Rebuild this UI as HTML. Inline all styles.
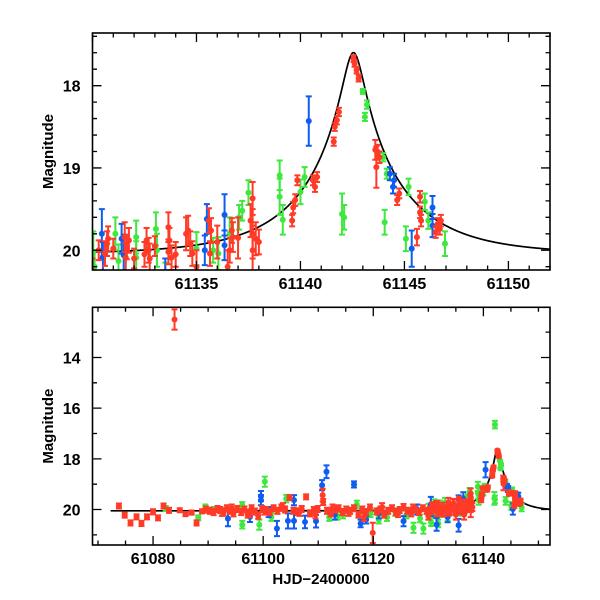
<!DOCTYPE html>
<html><head><meta charset="utf-8"><style>
html,body{margin:0;padding:0;background:#fff;}
svg{display:block;font-family:"Liberation Sans",sans-serif;}
</style></head><body>
<svg id="chart" width="600" height="600" viewBox="0 0 600 600" xmlns="http://www.w3.org/2000/svg">
<defs>
<clipPath id="clipTop"><rect x="92.5" y="33" width="457.5" height="237"/></clipPath>
<clipPath id="clipBot"><rect x="92.5" y="307.3" width="457.5" height="237.7"/></clipPath>
</defs>
<g id="top"></g>
<g id="bot"></g>
</svg>
<script>
const redT = [61130.6,61130.7,61130.75,61131.55,61131.65,61131.75,61131.6,61132.6,61132.7,61132.75,61133.65,61133.7,61133.65,61133.8,61134.6,61134.7,61134.8,61135.6,61135.7,61135.65,61136.7,61136.75,61136.6,61137.6,61137.7,61137.7,61137.7,61137.85,61139.6,61139.65,61139.75,61139.85,61140.6,61140.7,61140.8,61141.6,61141.65,61141.75,61141.85,61142.55,61142.6,61142.7,61142.8,61143.6,61143.7,61143.65,61143.8,61144.65,61144.75,61145.75,61145.75,61145.8,61145.6,61146.6,61146.7,61146.75,61146.5,
61073.8,61074.85,61075.9,61077.0,61077.9,61078.9,61080.0,61080.9,61081.9,61082.9,61083.9,61084.85,61085.9,61087.0,61087.9,61088.9,
61089.6,61090.3,61091.0,61091.7,61092.2,61092.8,61093.4,61094.0,61094.6,61095.3,61096.0,61096.6,61097.2,61097.9,61098.5,61099.1,61099.8,61100.5,61101.2,61101.9,61102.6,61103.3,61104.0,61104.8,61105.5,61106.3,61107.0,61107.8,61108.5,61109.2,61109.9,61110.8,61110.9,61111.6,61112.3,61113.0,61113.7,61114.4,61115.1,61115.8,61116.5,61117.3,61118.0,61118.7,61119.4,61119.9,61120.6,61121.3,61122.0,61122.7,61123.4,61124.1,61124.8,61125.5,61126.2,61126.9,61127.6,61128.3,61129.0,61129.7,61130.3,61131.0,61132.0,61133.0,61134.0,61135.0,61136.0,61137.0,61138.0,
61092.5,61094.3,61097.5,61100.2,61103.6,61106.6,61109.5,61112.6,61115.5,61118.3,61121.6,61124.5,61127.2,61130.0,61132.5,61134.5,61136.5,61137.5];
const redM = [20.04,19.92,19.86,19.84,19.96,19.88,20.09,19.88,20.0,20.1,19.72,19.88,20.02,20.09,19.76,19.92,20.04,19.64,19.76,20.04,19.76,19.84,20.0,19.64,19.37,19.8,20.0,19.86,19.64,19.48,19.39,19.15,19.15,19.23,19.11,18.68,18.5,18.42,18.32,17.67,17.73,17.81,17.91,18.78,18.8,18.99,18.87,19.39,19.31,19.35,19.54,19.64,19.84,19.68,19.74,19.64,19.78,
19.86,20.22,20.53,20.29,20.55,20.29,20.09,20.33,19.86,20.03,12.5,20.03,20.18,20.12,20.53,20.07,
20.0,20.05,20.1,19.98,20.02,20.12,19.95,20.05,20.15,19.98,20.1,20.0,20.2,19.95,20.08,20.25,19.98,20.02,20.1,19.95,20.05,19.92,20.0,19.53,20.05,20.1,19.98,19.5,20.15,20.02,19.98,19.43,19.7,20.05,20.15,20.0,19.95,20.1,20.0,20.05,19.95,20.2,20.0,20.1,19.92,20.92,20.08,20.0,20.2,20.05,19.95,20.1,20.02,19.9,20.05,20.15,20.0,20.1,19.95,20.05,20.0,19.98,20.1,19.95,20.05,20.2,19.9,19.85,
19.9,20.1,19.95,20.15,20.05,19.9,20.1,20.2,19.95,20.1,20.3,19.9,20.15,19.95,20.25,20.05,19.8,20.2];
const redE = [0.15,0.15,0.15,0.18,0.15,0.15,0.18,0.15,0.15,0.18,0.18,0.15,0.15,0.15,0.18,0.15,0.15,0.15,0.15,0.15,0.15,0.18,0.15,0.2,0.2,0.3,0.3,0.2,0.07,0.07,0.07,0.06,0.06,0.06,0.06,0.05,0.05,0.05,0.05,0.04,0.04,0.04,0.04,0.12,0.08,0.25,0.07,0.06,0.06,0.07,0.07,0.07,0.1,0.07,0.07,0.07,0.07,
0.1,0.1,0.1,0.1,0.1,0.1,0.1,0.1,0.1,0.1,0.4,0.08,0.08,0.08,0.1,0.08,
0.12,0.12,0.12,0.12,0.12,0.12,0.12,0.12,0.12,0.12,0.12,0.12,0.12,0.12,0.12,0.12,0.12,0.12,0.12,0.12,0.12,0.12,0.12,0.1,0.12,0.12,0.12,0.1,0.12,0.12,0.12,0.25,0.12,0.12,0.12,0.12,0.12,0.12,0.12,0.12,0.12,0.12,0.12,0.12,0.12,0.4,0.12,0.12,0.12,0.12,0.12,0.12,0.12,0.12,0.12,0.12,0.12,0.12,0.12,0.12,0.12,0.12,0.12,0.12,0.15,0.2,0.2,0.25,
0.15,0.15,0.15,0.15,0.15,0.15,0.15,0.15,0.15,0.15,0.15,0.15,0.15,0.15,0.15,0.15,0.2,0.2];
const greenT = [61130.04,61130.1,61131.1,61131.25,61132.1,61132.1,61133.05,61133.1,61135.0,61136.05,61136.6,61137.05,61137.2,61139.0,61139.0,61139.15,61140.0,61140.2,61142.0,61143.0,61143.1,61143.2,61143.98,61144.15,61144.05,61145.07,61145.2,61145.98,61146.15,61146.95,
61082.3,61088.2,61089.5,61091.0,61096.2,61096.2,61099.3,61100.3,61101.5,61104.2,61112.0,61114.5,61117.0,61119.5,61122.5,61124.0,61127.3,61129.1,61130.5,61133.5,61137.5,61142.1,61142.1,61113.5,61121.0,61126.0,61128.5,61131.8,61135.8];
const greenM = [20.02,20.2,19.8,20.13,19.84,20.09,19.74,20.0,19.98,20.04,19.8,19.6,19.52,19.09,19.35,19.63,19.29,19.11,19.56,18.07,18.38,18.23,18.87,19.07,19.66,19.86,19.23,19.41,19.64,19.92,
19.96,20.33,19.9,20.0,19.83,20.6,20.6,18.9,20.3,19.57,20.3,20.2,19.8,20.15,20.3,20.1,20.72,20.75,20.5,20.3,19.3,16.65,19.6,20.25,20.4,20.2,20.35,20.55,20.0];
const greenE = [0.25,0.2,0.2,0.2,0.2,0.2,0.2,0.2,0.2,0.2,0.2,0.15,0.12,0.18,0.22,0.18,0.15,0.12,0.25,0.03,0.05,0.05,0.05,0.06,0.15,0.15,0.1,0.1,0.1,0.15,
0.1,0.1,0.1,0.1,0.12,0.15,0.2,0.2,0.15,0.15,0.15,0.15,0.15,0.15,0.15,0.15,0.2,0.2,0.15,0.15,0.15,0.15,0.15,0.15,0.15,0.15,0.15,0.15,0.15];
const blueT = [61130.45,61130.5,61131.4,61131.5,61135.4,61135.5,61136.35,61136.35,61140.4,61144.3,61144.5,61144.45,61145.35,61146.35,61146.35,
61093.6,61097.6,61099.6,61099.6,61102.5,61104.5,61105.6,61105.6,61107.6,61109.6,61110.7,61111.5,61116.5,61117.7,61118.7,61125.5,61131.5,61135.5,61101.0,61113.0,61121.0,61128.0,61133.5];
const blueM = [19.8,20.08,19.86,20.06,20.0,19.62,19.57,19.94,18.43,19.07,19.15,19.23,19.98,19.48,19.7,
20.36,20.29,19.47,19.63,20.75,20.45,20.45,19.63,20.49,20.46,19.04,18.51,19.01,20.55,20.4,20.46,20.59,20.62,20.1,20.2,20.15,20.0,20.3];
const blueE = [0.3,0.18,0.18,0.25,0.18,0.18,0.25,0.18,0.3,0.08,0.08,0.08,0.22,0.14,0.14,
0.3,0.2,0.2,0.2,0.3,0.3,0.3,0.2,0.25,0.25,0.2,0.25,0.12,0.15,0.15,0.2,0.25,0.25,0.2,0.2,0.2,0.2,0.2];
const modelT0 = 61142.55, modelU0 = 0.105, modelTE = 4.7, modelBase = 20.05;

const NS = "http://www.w3.org/2000/svg";
function mk(tag, attrs, parent){const e=document.createElementNS(NS,tag);for(const k in attrs)e.setAttribute(k,attrs[k]);parent.appendChild(e);return e;}
function modelMag(t){const tau=(t-modelT0)/modelTE;const u=Math.sqrt(modelU0*modelU0+tau*tau);const A=(u*u+2)/(u*Math.sqrt(u*u+4));return modelBase-2.5*Math.log10(A);}

function panel(g, cfg){
  const L=92.5,R=550,T=cfg.top,B=cfg.bottom;
  const X=t=>L+(t-cfg.x0)/(cfg.x1-cfg.x0)*(R-L);
  const Y=m=>T+(m-cfg.y0)/(cfg.y1-cfg.y0)*(B-T);
  const clip=mk('g',{'clip-path':'url(#'+cfg.clip+')'},g);
  let d='';
  for(let t=cfg.c0;t<=cfg.x1+0.01;t+=(cfg.x1-cfg.x0)/900){d+=(d?'L':'M')+X(t).toFixed(2)+','+Y(modelMag(t)).toFixed(2);}
  const p=mk('path',{d:d,fill:'none',stroke:'#000','stroke-width':1.7},clip);
  
  
  const sets=[['green','#3ee83e',greenT,greenM,greenE],['blue','#0f5cf0',blueT,blueM,blueE],['red','#ff3a26',redT,redM,redE]];
  for(const [nm,col,ts,ms,es] of sets){
    const sg=mk('g',{},clip);
    
    
    for(let i=0;i<ts.length;i++){
      const x=X(ts[i]),y=Y(ms[i]),y1=Y(ms[i]-es[i]),y2=Y(ms[i]+es[i]);
      mk('path',{d:`M${x},${y1}V${y2}M${x-3},${y1}H${x+3}M${x-3},${y2}H${x+3}`,stroke:col,'stroke-width':2,fill:'none'},sg);
      const c=mk('circle',{cx:x,cy:y,r:3,fill:col},sg);
      
      
    }
  }
  mk('rect',{x:L,y:T,width:R-L,height:B-T,fill:'none',stroke:'#000','stroke-width':1.6},g);
  let tk='';
  for(let v=Math.ceil(cfg.x0/cfg.xmin)*cfg.xmin;v<=cfg.x1;v+=cfg.xmin){
    const x=X(v);const major=Math.abs(v/cfg.xmaj-Math.round(v/cfg.xmaj))<1e-6;const len=major?9:4.5;
    tk+=`M${x},${B}v${-len}M${x},${T}v${len}`;
  }
  for(let v=Math.ceil(cfg.y0/cfg.ymin-1e-6)*cfg.ymin;v<=cfg.y1+1e-6;v+=cfg.ymin){
    const y=Y(v);const major=Math.abs(v/cfg.ymaj-Math.round(v/cfg.ymaj))<1e-6;const len=major?9:4.5;
    tk+=`M${L},${y}h${len}M${R},${y}h${-len}`;
  }
  mk('path',{d:tk,stroke:'#000','stroke-width':1.3,fill:'none'},g);
  for(const v of cfg.xlabels){
    const t=mk('text',{x:X(v),y:B+19,'text-anchor':'middle','font-size':16,'font-weight':'bold'},g);
    t.textContent=v;
    
    
  }
  for(const v of cfg.ylabels){
    const t=mk('text',{x:L-12,y:Y(v)+6,'text-anchor':'end','font-size':16,'font-weight':'bold'},g);
    t.textContent=v;
    
    
  }
  const yt=mk('text',{x:0,y:0,transform:`translate(53,${(T+B)/2}) rotate(-90)`,'text-anchor':'middle','font-size':15,'font-weight':'bold'},g);
  yt.textContent='Magnitude';
  
  
}
const topLabelsX=[61135,61140,61145,61150], topLabelsY=[18,19,20];
const botLabelsX=[61080,61100,61120,61140], botLabelsY=[14,16,18,20];
panel(document.getElementById('top'),{top:33,bottom:270,x0:61130,x1:61152,y0:17.36,y1:20.24,c0:61130,xmaj:5,xmin:1,ymaj:1,ymin:0.2,xlabels:topLabelsX,ylabels:topLabelsY,clip:'clipTop'});
panel(document.getElementById('bot'),{top:307.3,bottom:545,x0:61069,x1:61152.1,y0:12.02,y1:21.4,c0:61072.3,xmaj:20,xmin:5,ymaj:2,ymin:1,xlabels:botLabelsX,ylabels:botLabelsY,clip:'clipBot'});
const xt=document.createElementNS(NS,'text');
xt.setAttribute('x',321);xt.setAttribute('y',584);xt.setAttribute('text-anchor','middle');xt.setAttribute('font-size',15);xt.setAttribute('font-weight','bold');
xt.textContent='HJD\u22122400000';


document.getElementById('chart').appendChild(xt);
</script>
</body></html>
